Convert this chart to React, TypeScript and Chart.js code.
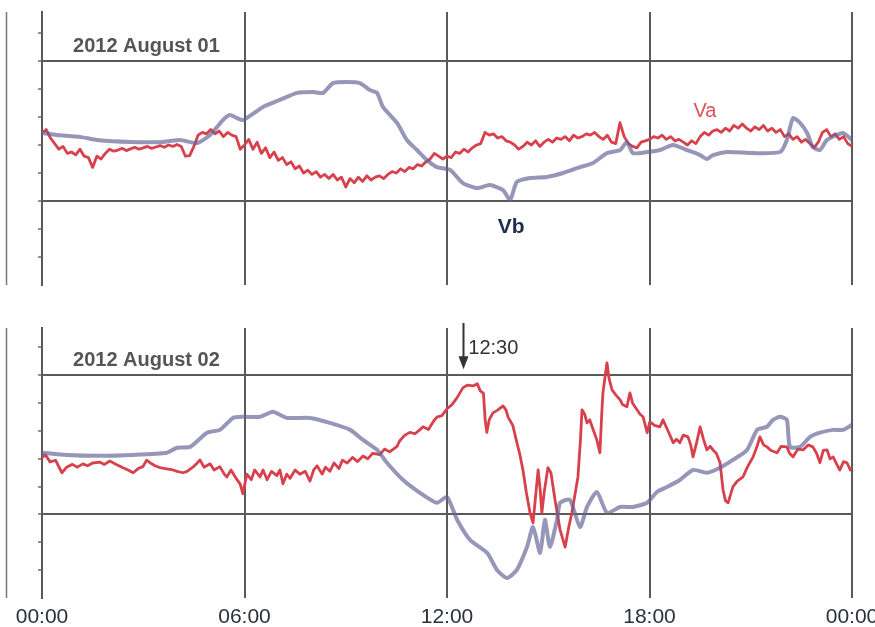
import React, { useEffect, useRef } from "react";
import { Chart, registerables } from "chart.js";

Chart.register(...registerables);

// ---------- data ----------
const X_TICK_LABELS = ["00:00", "06:00", "12:00", "18:00", "00:00"];
const GRID_VALUES = [3, 8];

// 2012 August 01 — Va sampled every 7.5 min (0.125 h)
const AUG01_VA_STEP_H = 0.125;
const AUG01_VA = [
  5.43, 5.55, 5.25, 5.05, 4.85, 4.95, 4.7, 4.75,
  4.65, 4.85, 4.6, 4.55, 4.2, 4.6, 4.5, 4.7,
  4.85, 4.78, 4.82, 4.88, 4.8, 4.86, 4.92, 4.85,
  4.9, 4.95, 4.88, 4.93, 4.98, 4.92, 5.0, 4.95,
  5.02, 4.95, 4.6, 4.62, 4.95, 5.35, 5.45, 5.4,
  5.55, 5.4, 5.5, 5.3, 5.45, 5.35, 5.3, 4.85,
  5.0, 5.2, 4.85, 5.1, 4.7, 4.9, 4.55, 4.75,
  4.45, 4.55, 4.3, 4.4, 4.15, 4.25, 4.0, 4.1,
  3.95, 4.05, 3.85, 3.95, 3.8, 3.95, 3.75, 3.85,
  3.5, 3.8, 3.65, 3.85, 3.7, 3.9, 3.75, 3.85,
  3.9, 3.8, 3.95, 4.05, 4.0, 4.15, 4.05, 4.2,
  4.15, 4.3, 4.25, 4.4, 4.5, 4.7, 4.6, 4.5,
  4.6, 4.55, 4.75, 4.7, 4.85, 4.75, 4.9, 5.0,
  5.05, 5.45, 5.35, 5.4, 5.25, 5.3, 5.15, 5.1,
  5.0, 4.85, 4.95, 5.1, 5.0, 5.15, 4.95, 5.1,
  5.2, 5.1, 5.25, 5.2, 5.3, 5.15, 5.35, 5.25,
  5.3, 5.4, 5.35, 5.45, 5.3, 5.2, 5.35, 5.1,
  5.05, 5.8, 5.3, 5.05, 4.95, 4.9, 5.1, 5.15,
  5.2, 5.3, 5.25, 5.35, 5.2, 5.3, 5.15, 5.2,
  5.1, 5.0, 5.15, 5.05, 5.3, 5.45, 5.35, 5.5,
  5.55, 5.45, 5.6, 5.5, 5.7, 5.6, 5.75, 5.6,
  5.5, 5.65, 5.55, 5.7, 5.5, 5.6, 5.45, 5.55,
  5.3, 5.4, 5.2, 5.3, 5.1, 5.2, 5.05, 4.9,
  5.1, 5.45, 5.55, 5.3, 5.4, 5.2, 5.3, 5.05,
  4.95,
];

const AUG01_VB_HOURS = [
  0, 0.44, 1.13, 1.63, 2.61, 3.59, 4.09, 4.59, 4.98, 5.36, 5.57, 5.78, 5.96,
  6.55, 7.05, 7.56, 8.03, 8.33, 8.62, 9.04, 9.42, 9.72, 9.93, 10.1, 10.52,
  10.81, 11.11, 11.41, 11.7, 12.09, 12.47, 12.89, 13.27, 13.66, 13.87, 14.07,
  14.46, 14.96, 15.44, 15.94, 16.33, 16.74, 17.13, 17.33, 17.51, 17.93, 18.31,
  18.7, 19.11, 19.5, 19.7, 19.88, 20.3, 21.07, 21.87, 22.07, 22.25, 22.46,
  22.67, 22.84, 23.05, 23.26, 23.73, 24,
];
const AUG01_VB = [
  5.43, 5.36, 5.29, 5.18, 5.11, 5.11, 5.18, 5.07, 5.36, 5.89, 6.07, 5.96, 5.89,
  6.36, 6.61, 6.86, 6.89, 6.86, 7.21, 7.25, 7.21, 6.96, 6.86, 6.36, 5.79,
  5.18, 4.82, 4.46, 4.21, 4.11, 3.64, 3.46, 3.57, 3.39, 3.04, 3.68,
  3.82, 3.86, 4.0, 4.21, 4.36, 4.71, 4.82, 5.11, 4.71, 4.75, 4.82,
  5.0, 4.82, 4.64, 4.5, 4.64, 4.75, 4.71, 4.75, 5.18, 5.96, 5.79,
  5.43, 4.93, 4.82, 5.18, 5.43, 5.18,
];

// 2012 August 02
const AUG02_VA_HOURS = [
  0, 0.1, 0.24, 0.4, 0.59, 0.74, 0.9, 1.05, 1.21, 1.35, 1.5, 1.72, 1.85, 2.01,
  2.2, 2.4, 2.55, 2.7, 2.85, 2.99, 3.1, 3.2, 3.35, 3.5, 3.65, 3.88, 4.0, 4.18,
  4.3, 4.47, 4.6, 4.68, 4.8, 4.98, 5.1, 5.27, 5.4, 5.48, 5.6, 5.75, 5.87, 5.95,
  6.07, 6.2, 6.3, 6.46, 6.55, 6.67, 6.8, 6.96, 7.05, 7.14, 7.25, 7.35, 7.5,
  7.64, 7.8, 7.94, 8.05, 8.15, 8.3, 8.4, 8.53, 8.65, 8.8, 8.9, 9.04, 9.2,
  9.35, 9.51, 9.65, 9.8, 10.01, 10.15, 10.3, 10.52, 10.6, 10.75, 10.9, 11.05,
  11.2, 11.29, 11.45, 11.6, 11.7, 11.85, 12.0, 12.15, 12.3, 12.47, 12.6,
  12.77, 12.9, 12.98, 13.08, 13.13, 13.18, 13.25, 13.36, 13.5, 13.66, 13.75,
  13.81, 13.95, 14.07, 14.15, 14.25, 14.35, 14.46, 14.55, 14.62, 14.7, 14.76,
  14.81, 14.88, 14.99, 15.08, 15.2, 15.35, 15.5, 15.6, 15.7, 15.88, 15.95,
  16.0, 16.08, 16.15, 16.23, 16.3, 16.44, 16.53, 16.58, 16.62, 16.7, 16.74,
  16.8, 16.89, 17.0, 17.13, 17.2, 17.33, 17.42, 17.5, 17.63, 17.72, 17.81,
  17.93, 18.01, 18.15, 18.31, 18.4, 18.55, 18.7, 18.8, 18.9, 19.0, 19.14,
  19.22, 19.29, 19.4, 19.5, 19.6, 19.7, 19.8, 19.88, 19.98, 20.09, 20.18,
  20.25, 20.33, 20.47, 20.6, 20.77, 20.9, 21.07, 21.2, 21.27, 21.38, 21.48,
  21.6, 21.78, 21.9, 22.07, 22.15, 22.25, 22.4, 22.55, 22.7, 22.84, 22.95,
  23.05, 23.15, 23.26, 23.35, 23.44, 23.55, 23.64, 23.75, 23.85, 23.95, 24.0,
];
const AUG02_VA = [
  5.04, 5.15, 4.89, 4.95, 4.5, 4.71, 4.8, 4.7, 4.82, 4.75, 4.85, 4.88, 4.8, 4.92,
  4.8, 4.68, 4.6, 4.5, 4.65, 4.72, 4.95, 4.86, 4.75, 4.68, 4.65, 4.6, 4.55, 4.5,
  4.55, 4.7, 4.85, 4.96, 4.7, 4.82, 4.6, 4.72, 4.45, 4.35, 4.6, 4.3, 4.1, 3.75,
  4.45, 4.25, 4.6, 4.35, 4.6, 4.25, 4.55, 4.4, 4.6, 4.1, 4.45, 4.3, 4.6,
  4.45, 4.55, 4.2, 4.6, 4.75, 4.45, 4.7, 4.55, 4.85, 4.65, 4.95, 4.85, 5.05,
  4.9, 5.1, 5.0, 5.2, 5.15, 5.35, 5.25, 5.45, 5.65, 5.85, 5.95, 5.9,
  6.05, 6.15, 6.05, 6.35, 6.5, 6.55, 6.8, 6.95, 7.2, 7.55, 7.65,
  7.62, 7.7, 7.45, 7.35, 6.4, 5.95, 6.4, 6.65, 6.75, 6.9, 6.75,
  6.5, 6.2, 5.58, 5.2, 4.6, 3.8, 3.06, 2.7, 3.6, 4.6, 3.9,
  3.06, 3.8, 4.68, 4.5, 3.53, 2.45, 1.83, 2.5, 3.06, 4.35, 5.6,
  6.76, 6.6, 6.29, 6.4, 6.15, 5.68, 5.22, 6.5, 7.37, 8.1, 8.45,
  7.9, 7.48, 7.3, 7.12, 6.95, 6.87, 7.37, 7.0, 6.76, 6.6, 6.51,
  5.94, 6.33, 6.2, 6.15, 6.4, 6.0, 5.58, 5.7, 5.58, 5.85, 5.79,
  5.5, 5.07, 5.6, 6.15, 5.7, 5.32, 5.45, 5.32, 5.2, 4.86, 3.88,
  3.5, 3.42, 3.99, 4.2, 4.35, 4.7, 5.07, 5.5, 5.79, 5.5, 5.43,
  5.3, 5.22, 5.45, 5.43, 5.2, 5.07, 5.35, 5.32, 5.5, 5.43, 5.2,
  4.86, 5.3, 5.32, 5.0, 5.07, 4.8, 4.6, 4.9, 4.86, 4.6, 4.68,
];

const AUG02_VB_HOURS = [
  0, 0.74, 1.72, 2.7, 3.7, 4.0, 4.39, 4.89, 5.27, 5.66, 5.96, 6.46, 6.84, 7.26,
  7.94, 8.53, 9.13, 9.51, 9.93, 10.22, 10.7, 11.2, 11.7, 12.0, 12.3, 12.68,
  13.19, 13.48, 13.78, 14.07, 14.37, 14.55, 14.76, 14.9, 15.05, 15.26, 15.35,
  15.64, 15.94, 16.15, 16.44, 16.74, 17.13, 17.51, 17.93, 18.22, 18.52, 18.9,
  19.29, 19.7, 20.09, 20.47, 20.89, 21.19, 21.48, 21.66, 21.87, 22.07, 22.16,
  22.46, 22.76, 23.05, 23.44, 23.73, 24,
];
const AUG02_VB = [
  5.22, 5.14, 5.11, 5.14, 5.22, 5.4, 5.43, 5.94, 6.04, 6.47, 6.51, 6.51, 6.69, 6.47,
  6.47, 6.29, 6.04, 5.68, 5.32, 4.86, 4.24, 3.78, 3.42, 3.63, 2.81, 2.09,
  1.62, 1.01, 0.72, 1.01, 1.83, 2.55, 1.62, 2.81, 1.83, 2.81, 3.42,
  3.53, 2.55, 3.27, 3.81, 3.06, 3.27, 3.27, 3.42, 3.81, 3.99, 4.24,
  4.6, 4.5, 4.68, 4.96, 5.32, 6.04, 6.15, 6.4, 6.51, 6.4, 5.43,
  5.43, 5.79, 5.94, 6.04, 6.04, 6.22,
];

// ---------- styles ----------
const RED = "#d8404c";
const VB_COLOR = "rgba(100, 100, 150, 0.68)";
const GRID = "#5a5a5a";
const FONT = "'Liberation Sans', Arial, sans-serif";

type Note = { text: string; hour: number; value: number; font: string; color: string; align?: CanvasTextAlign };

type PanelProps = {
  top: number;
  height: number;
  padTop: number;
  xAxisHeight: number;
  yMax: number;
  showXLabels: boolean;
  va: { x: number; y: number }[];
  vb: { x: number; y: number }[];
  title: string;
  notes: Note[];
  arrowHour?: number;
};

function Panel(p: PanelProps) {
  const ref = useRef<HTMLCanvasElement | null>(null);
  useEffect(() => {
    if (!ref.current) return;
    const annot = {
      id: "annot",
      afterDatasetsDraw(chart: any) {
        const { ctx, chartArea } = chart;
        const xs = chart.scales.x;
        const ys = chart.scales.y;
        ctx.save();
        // scan edge line on the far left
        ctx.strokeStyle = "#777";
        ctx.lineWidth = 1.5;
        ctx.beginPath();
        ctx.moveTo(6.5, chartArea.top);
        ctx.lineTo(6.5, chartArea.bottom);
        ctx.stroke();
        // title
        ctx.fillStyle = "#555";
        ctx.font = `bold 20px ${FONT}`;
        ctx.textAlign = "left";
        ctx.textBaseline = "alphabetic";
        ctx.fillText(p.title, xs.getPixelForValue(0.92), ys.getPixelForValue(8) - 9);
        for (const n of p.notes) {
          ctx.font = n.font;
          ctx.fillStyle = n.color;
          ctx.textAlign = n.align || "left";
          ctx.fillText(n.text, xs.getPixelForValue(n.hour), ys.getPixelForValue(n.value));
        }
        if (p.arrowHour !== undefined) {
          const ax = Math.round(xs.getPixelForValue(p.arrowHour)) - 0.5;
          const tipY = ys.getPixelForValue(8) - 6;
          ctx.strokeStyle = "#333";
          ctx.fillStyle = "#333";
          ctx.lineWidth = 2;
          ctx.beginPath();
          ctx.moveTo(ax, chartArea.top - 5);
          ctx.lineTo(ax, tipY - 10);
          ctx.stroke();
          ctx.beginPath();
          ctx.moveTo(ax - 5, tipY - 13);
          ctx.lineTo(ax + 5, tipY - 13);
          ctx.lineTo(ax, tipY);
          ctx.closePath();
          ctx.fill();
        }
        ctx.restore();
      },
    };

    const chart = new Chart(ref.current, {
      type: "line",
      data: {
        datasets: [
          {
            label: "Vb",
            data: p.vb,
            borderColor: VB_COLOR,
            borderWidth: 4,
            pointRadius: 0,
            tension: 0.2,
            borderJoinStyle: "round",
            borderCapStyle: "round",
          },
          {
            label: "Va",
            data: p.va,
            borderColor: RED,
            borderWidth: 2.8,
            pointRadius: 0,
            tension: 0,
            borderJoinStyle: "round",
          },
        ],
      },
      options: {
        animation: false,
        responsive: false,
        devicePixelRatio: 1,
        parsing: false,
        normalized: true,
        layout: { autoPadding: false, padding: { top: p.padTop, left: 0, right: 23, bottom: 0 } },
        plugins: { legend: { display: false }, tooltip: { enabled: false }, title: { display: false } },
        scales: {
          x: {
            type: "linear",
            min: 0,
            max: 24,
            border: { display: false },
            grid: { color: GRID, lineWidth: 2, drawTicks: false },
            ticks: {
              display: p.showXLabels,
              stepSize: 6,
              autoSkip: false,
              maxRotation: 0,
              padding: 7,
              color: "#2c303a",
              font: { family: FONT, size: 21 },
              callback: (_v: any, i: number) => X_TICK_LABELS[i],
            },
            afterFit: (s: any) => {
              s.height = p.xAxisHeight;
              s.paddingLeft = 0;
              s.paddingRight = 0;
            },
          },
          y: {
            type: "linear",
            min: 0,
            max: p.yMax,
            border: { display: true, color: GRID, width: 2 },
            grid: {
              lineWidth: 2,
              tickLength: 4,
              color: (c: any) => (GRID_VALUES.includes(c.tick?.value) ? GRID : "rgba(0,0,0,0)"),
              tickColor: (c: any) =>
                Number.isInteger(c.tick?.value) && c.tick.value > 0 ? "#6a6a6a" : "rgba(0,0,0,0)",
              tickWidth: 1.5,
            },
            ticks: { display: false, stepSize: 1 },
            afterFit: (s: any) => {
              s.width = 42;
              s.paddingTop = 0;
              s.paddingBottom = 0;
            },
          },
        },
      },
      plugins: [annot],
    } as any);
    return () => chart.destroy();
  }, []);
  return (
    <canvas
      ref={ref}
      width={875}
      height={p.height}
      style={{ position: "absolute", left: 0, top: p.top, width: 875, height: p.height, display: "block" }}
    />
  );
}

const toPts = (hours: number[], vals: number[]) => vals.map((v, i) => ({ x: hours[i], y: v }));

export default function App() {
  const aug01VaHours = AUG01_VA.map((_, i) => i * AUG01_VA_STEP_H);
  return (
    <div style={{ position: "fixed", left: 0, top: 0, width: 875, height: 627, background: "#fff", overflow: "hidden" }}>
      <Panel
        top={0}
        height={300}
        padTop={12}
        xAxisHeight={15}
        yMax={9.75}
        showXLabels={false}
        va={toPts(aug01VaHours, AUG01_VA)}
        vb={toPts(AUG01_VB_HOURS, AUG01_VB)}
        title="2012 August 01"
        notes={[
          { text: "Va", hour: 19.3, value: 5.99, font: `20px ${FONT}`, color: "#e0505a" },
          { text: "Vb", hour: 13.5, value: 1.85, font: `bold 21px ${FONT}`, color: "#1f2d4d" },
        ]}
      />
      <Panel
        top={300}
        height={327}
        padTop={28}
        xAxisHeight={29}
        yMax={9.7}
        showXLabels={true}
        va={toPts(AUG02_VA_HOURS, AUG02_VA)}
        vb={toPts(AUG02_VB_HOURS, AUG02_VB)}
        title="2012 August 02"
        notes={[{ text: "12:30", hour: 12.63, value: 8.77, font: `20px ${FONT}`, color: "#333" }]}
        arrowHour={12.5}
      />
    </div>
  );
}
